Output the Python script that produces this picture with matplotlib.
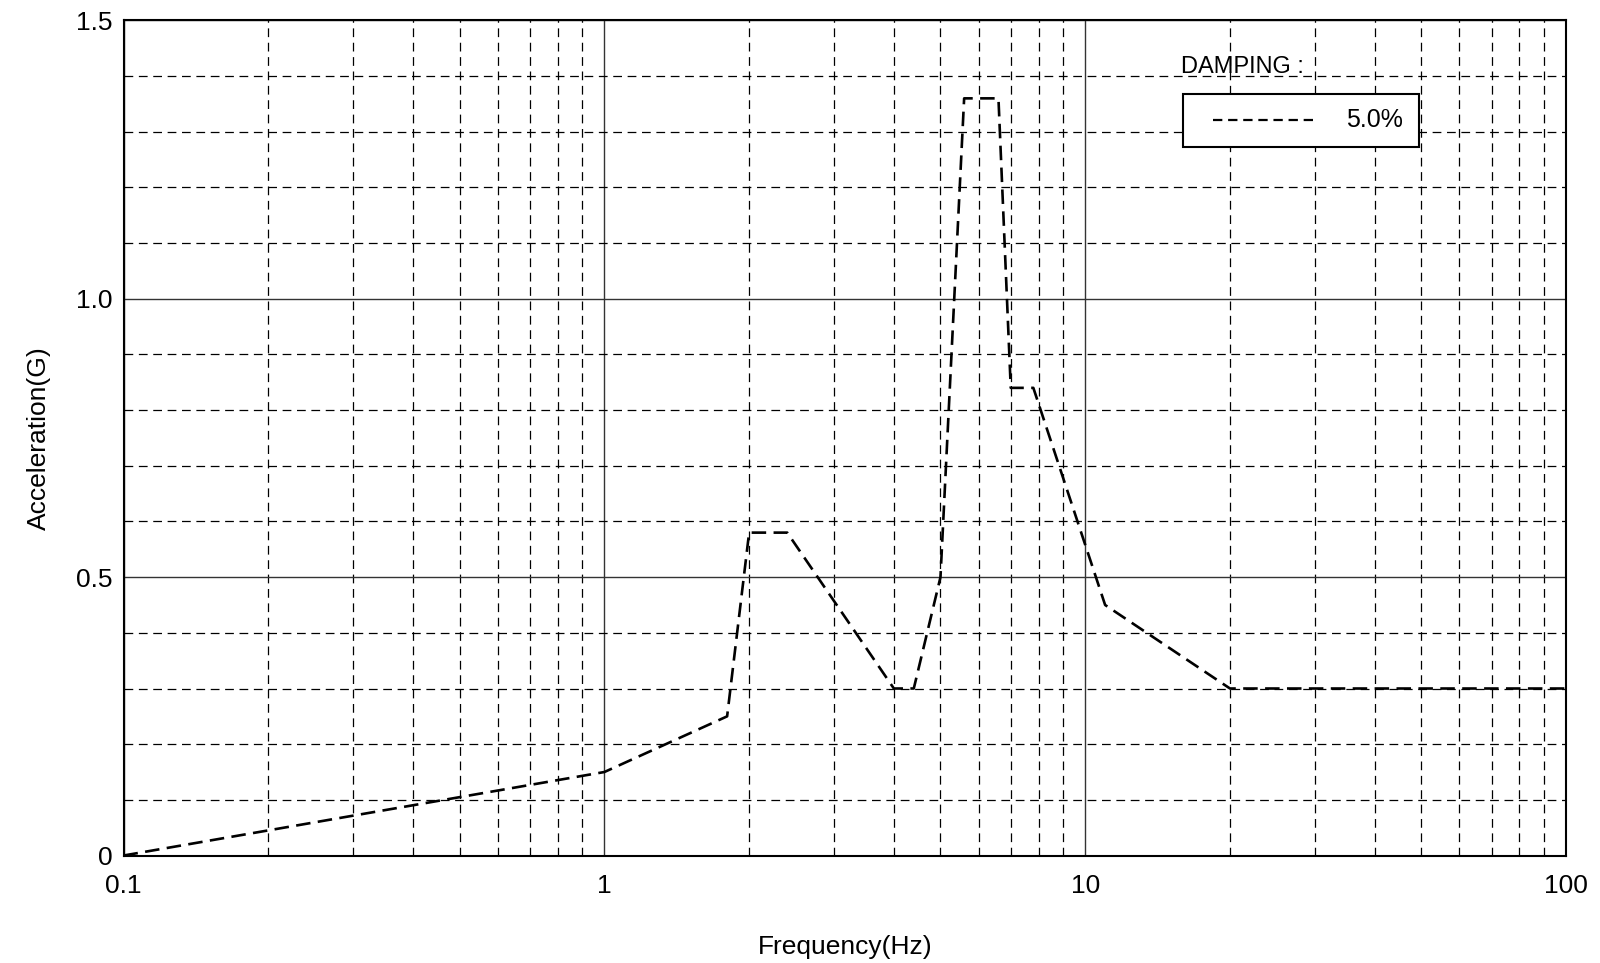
import matplotlib
matplotlib.use("Agg")
import matplotlib.pyplot as plt
from matplotlib.ticker import FixedLocator, NullFormatter, FixedFormatter
from matplotlib.patches import Rectangle
from matplotlib.lines import Line2D

plt.rcParams['font.family'] = ['Liberation Sans', 'DejaVu Sans']

# Data
freq = [0.1, 1.0, 1.8, 2.0, 2.4, 4.0, 4.4, 5.0, 5.6, 6.6, 7.0, 7.8, 11.0, 20.0, 100.0]
accel = [0.0, 0.15, 0.25, 0.58, 0.58, 0.30, 0.30, 0.50, 1.36, 1.36, 0.84, 0.84, 0.45, 0.30, 0.30]

x_major = [0.1, 1, 10, 100]
x_major_labels = ["0.1", "1", "10", "100"]
y_major = [0.0, 0.5, 1.0, 1.5]
y_major_labels = ["0", "0.5", "1.0", "1.5"]
y_minor = [0.1, 0.2, 0.3, 0.4, 0.6, 0.7, 0.8, 0.9, 1.1, 1.2, 1.3, 1.4]
x_minor = [m * d for d in (0.1, 1, 10) for m in range(2, 10)]

legend_title = "DAMPING :"
series_label = "5.0%"

fig = plt.figure(figsize=(16, 9.63), dpi=100)
ax = fig.add_axes([0.0772, 0.1116, 0.9016, 0.8672])

ax.set_xscale('log')
ax.set_xlim(0.1, 100)
ax.set_ylim(0, 1.5)

ax.xaxis.set_major_locator(FixedLocator(x_major))
ax.xaxis.set_major_formatter(FixedFormatter(x_major_labels))
ax.xaxis.set_minor_locator(FixedLocator(x_minor))
ax.xaxis.set_minor_formatter(NullFormatter())
ax.yaxis.set_major_locator(FixedLocator(y_major))
ax.yaxis.set_major_formatter(FixedFormatter(y_major_labels))
ax.yaxis.set_minor_locator(FixedLocator(y_minor))

ax.tick_params(which='both', length=0, labelsize=19)
ax.tick_params(axis='x', pad=13)
ax.tick_params(axis='y', pad=8)

ax.grid(which='major', color='#333333', linewidth=1.0, linestyle='-')
ax.grid(which='minor', color='black', linewidth=0.9, linestyle=(0, (7, 4.5)))
ax.set_axisbelow(True)

for s in ax.spines.values():
    s.set_linewidth(1.5)
    s.set_color('black')

line_color = 'black'
line_width = 1.9
ax.plot(freq, accel, color=line_color, linewidth=line_width,
        linestyle=(0, (5.5, 2.8)), zorder=3)

ax.set_xlabel("Frequency(Hz)", fontsize=19, labelpad=27)
ax.set_ylabel("Acceleration(G)", fontsize=19, labelpad=18)

# Legend drawn as a box in axes coordinates
ax.text(0.733, 0.944, legend_title, transform=ax.transAxes, fontsize=17,
        va='center', ha='left', zorder=5)
box = Rectangle((0.7345, 0.8485), 0.1635, 0.0635, transform=ax.transAxes,
                facecolor='white', edgecolor='black', linewidth=1.5, zorder=5)
ax.add_patch(box)
ax.add_line(Line2D([0.7555, 0.8245], [0.8805, 0.8805], transform=ax.transAxes,
                   color=line_color, linewidth=1.6, linestyle=(0, (4.2, 2.6)),
                   zorder=6))
ax.text(0.887, 0.8805, series_label, transform=ax.transAxes, fontsize=18,
        va='center', ha='right', zorder=6)

fig.savefig("out.png", dpi=100, facecolor='white')
